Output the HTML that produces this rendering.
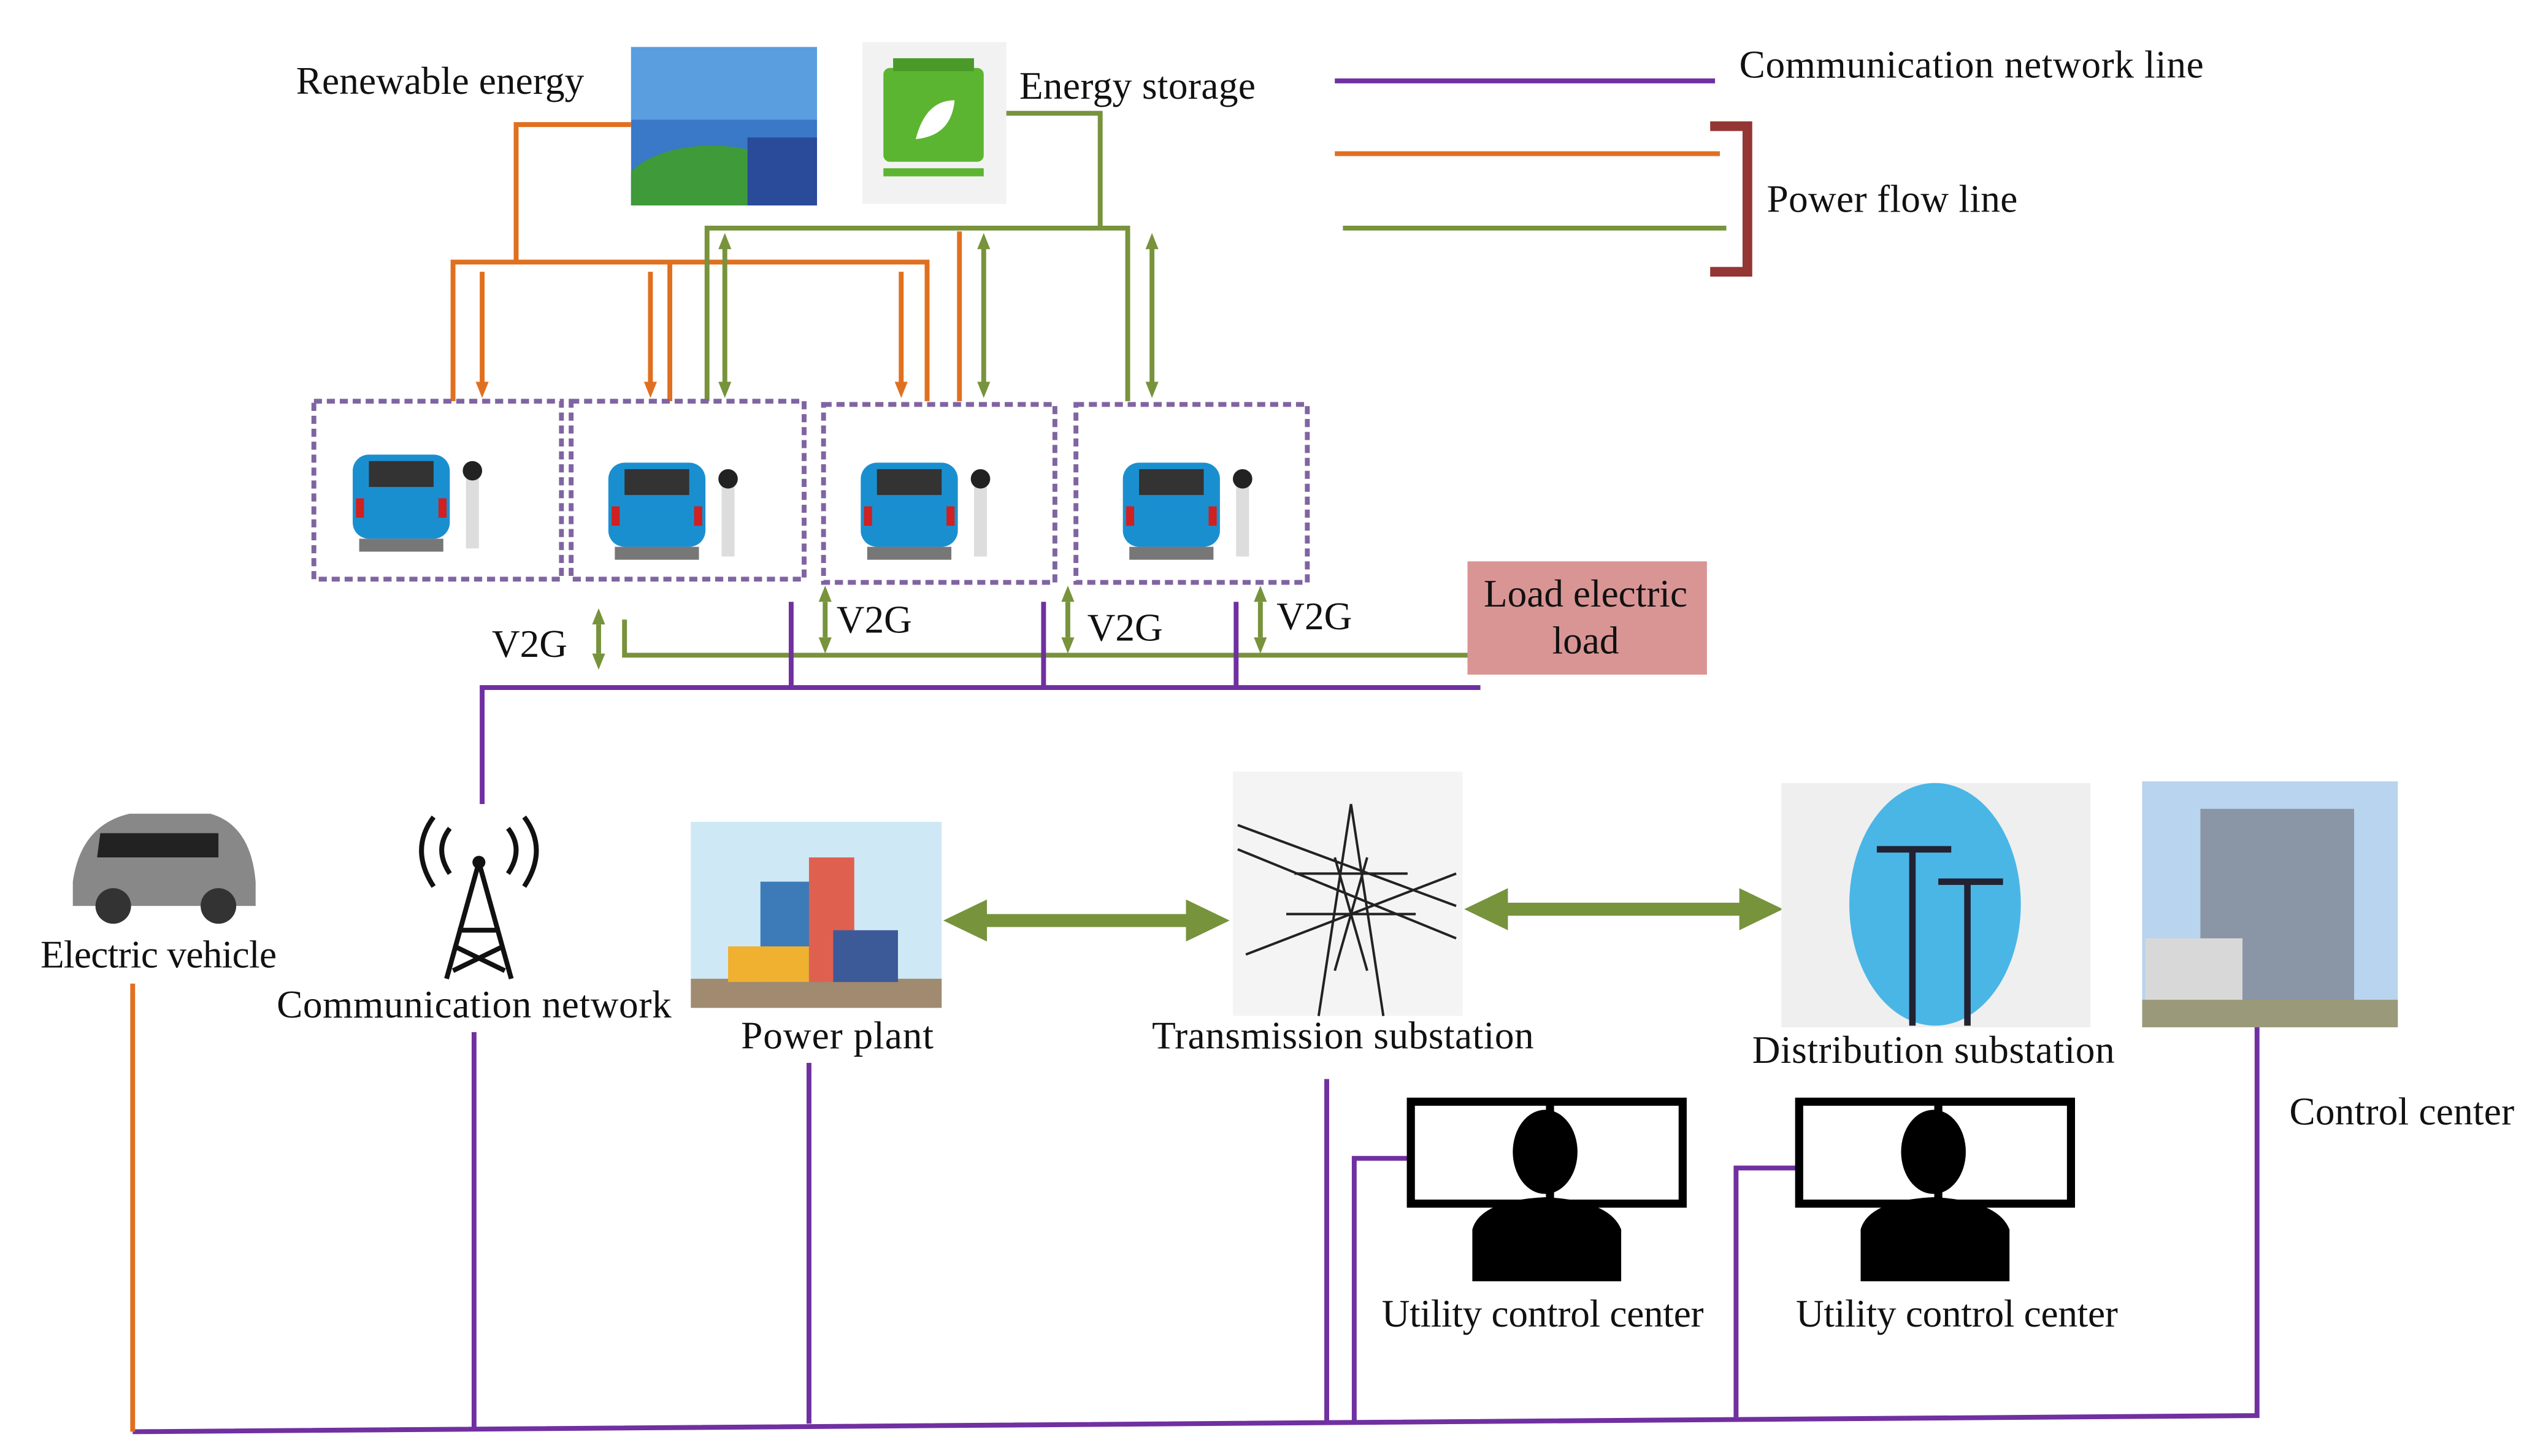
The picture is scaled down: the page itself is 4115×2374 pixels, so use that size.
<!DOCTYPE html>
<html><head><meta charset="utf-8"><style>html,body{margin:0;padding:0;background:#fff}svg{display:block}text{font-family:"Liberation Serif",serif;font-size:24px;fill:#111}</style></head><body>
<svg width="4115" height="2374" viewBox="0 0 1560 900" preserveAspectRatio="none" xmlns="http://www.w3.org/2000/svg">
<defs>
<g id="car">
<rect x="-30" y="-22" width="60" height="52" rx="10" fill="#1a8fd0"/>
<rect x="-20" y="-18" width="40" height="16" fill="#333"/>
<rect x="-26" y="30" width="52" height="8" fill="#777"/>
<rect x="-28" y="5" width="5" height="12" fill="#d02020"/><rect x="23" y="5" width="5" height="12" fill="#d02020"/>
<rect x="40" y="-12" width="8" height="48" fill="#ddd"/><circle cx="44" cy="-12" r="6" fill="#222"/>
</g>
<clipPath id="rc"><rect x="390" y="29" width="115" height="98"/></clipPath>
</defs>
<!-- legend -->
<line x1="825" y1="50" x2="1060" y2="50" stroke="#7030a0" stroke-width="3"/>
<line x1="825" y1="95" x2="1063" y2="95" stroke="#e07020" stroke-width="3"/>
<line x1="830" y1="141" x2="1067" y2="141" stroke="#77933c" stroke-width="3"/>
<path d="M1057,78 H1080 V168 H1057" fill="none" stroke="#943634" stroke-width="6"/>
<text x="1075" y="48" textLength="287">Communication network line</text>
<text x="1092" y="131" textLength="155">Power flow line</text>
<text x="183" y="58" textLength="178">Renewable energy</text>
<text x="630" y="61" textLength="146">Energy storage</text>
<!-- renewable image -->
<g clip-path="url(#rc)">
<rect x="390" y="29" width="115" height="98" fill="#3a78c8"/>
<rect x="390" y="29" width="115" height="45" fill="#5a9ee0"/>
<ellipse cx="440" cy="118" rx="55" ry="28" fill="#3f9a3a"/>
<rect x="462" y="85" width="43" height="42" fill="#2a4a9a"/>
</g>
<!-- storage image -->
<rect x="533" y="26" width="89" height="100" fill="#f2f2f2"/>
<rect x="546" y="42" width="62" height="58" rx="4" fill="#5cb531"/>
<rect x="552" y="36" width="50" height="8" fill="#4a9a2a"/>
<rect x="546" y="104" width="62" height="5" fill="#5cb531"/>
<path d="M566,86 Q572,62 590,62 Q588,84 566,86Z" fill="#fff"/>
<!-- orange lines -->
<g stroke="#e07020" stroke-width="3" fill="none">
<path d="M390,77 H319 V162"/><path d="M280,248 V162 H573 V248"/><path d="M414,162 V248"/><path d="M593,143 V248"/>
<path d="M298,168 V238 M402,168 V238 M557,168 V238"/>
</g>
<g fill="#e07020"><path d="M294,236 L298,246 L302,236Z"/><path d="M398,236 L402,246 L406,236Z"/><path d="M553,236 L557,246 L561,236Z"/></g>
<!-- green lines -->
<g stroke="#77933c" stroke-width="3" fill="none">
<path d="M622,70 H680 V141"/><path d="M437,248 V141 H697 V248"/>
<path d="M448,152 V238 M608,152 V238 M712,152 V238"/>
<path d="M386,383 V405 H907"/>
<path d="M370,386 V404 M510,372 V394 M660,372 V394 M779,372 V394"/>
</g>
<g fill="#77933c">
<path d="M444,154 L448,144 L452,154Z M444,236 L448,246 L452,236Z"/>
<path d="M604,154 L608,144 L612,154Z M604,236 L608,246 L612,236Z"/>
<path d="M708,154 L712,144 L716,154Z M708,236 L712,246 L716,236Z"/>
<path d="M366,386 L370,376 L374,386Z M366,404 L370,414 L374,404Z"/>
<path d="M506,372 L510,362 L514,372Z M506,394 L510,404 L514,394Z"/>
<path d="M656,372 L660,362 L664,372Z M656,394 L660,404 L664,394Z"/>
<path d="M775,372 L779,362 L783,372Z M775,394 L779,404 L783,394Z"/>
</g>
<!-- EV boxes -->
<g fill="none" stroke="#8064a2" stroke-width="3" stroke-dasharray="5,3">
<rect x="194" y="248" width="153" height="110"/><rect x="353" y="248" width="144" height="110"/>
<rect x="509" y="250" width="143" height="110"/><rect x="665" y="250" width="143" height="110"/>
</g>
<use href="#car" x="248" y="303"/><use href="#car" x="406" y="308"/><use href="#car" x="562" y="308"/><use href="#car" x="724" y="308"/>
<!-- load box -->
<rect x="907" y="347" width="148" height="70" fill="#d99594"/>
<text x="980" y="375" text-anchor="middle">Load electric</text>
<text x="980" y="404" text-anchor="middle">load</text>
<text x="304" y="406">V2G</text><text x="517" y="391">V2G</text><text x="672" y="396">V2G</text><text x="789" y="389">V2G</text>
<!-- purple -->
<g stroke="#7030a0" stroke-width="3" fill="none">
<path d="M298,497 V425 H915"/><path d="M489,372 V425"/><path d="M645,372 V425"/><path d="M764,372 V425"/>
<path d="M82,885 L1395,875 V633"/><path d="M293,638 V882"/><path d="M500,657 V880"/><path d="M820,667 V878"/>
<path d="M837,878 V716 H870"/><path d="M1073,876 V722 H1110"/>
</g>
<path d="M82,608 V885" stroke="#e07020" stroke-width="3"/>
<!-- big arrows -->
<g stroke="#77933c" stroke-width="8">
<line x1="605" y1="569" x2="738" y2="569"/><line x1="927" y1="562" x2="1080" y2="562"/>
</g>
<g fill="#77933c"><path d="M583,569 L610,556 V582Z"/><path d="M760,569 L733,556 V582Z"/><path d="M905,562 L932,549 V575Z"/><path d="M1102,562 L1075,549 V575Z"/></g>
<!-- EV -->
<path d="M45,545 Q50,510 80,503 H130 Q155,510 158,545 V560 H45Z" fill="#888"/>
<path d="M62,515 H135 V530 H60Z" fill="#222"/>
<circle cx="70" cy="560" r="11" fill="#333"/><circle cx="135" cy="560" r="11" fill="#333"/>
<text x="25" y="598" textLength="146">Electric vehicle</text>
<!-- tower -->
<g stroke="#111" stroke-width="3" fill="none">
<path d="M296,533 L276,605 M296,533 L316,605 M283,575 H309 M281,585 L312,600 M311,585 L280,600"/>
<path d="M278,512 Q268,525 278,540 M314,512 Q324,525 314,540 M268,505 Q253,525 268,548 M324,505 Q339,525 324,548"/>
</g>
<circle cx="296" cy="533" r="4" fill="#111"/>
<text x="171" y="629" textLength="244">Communication network</text>
<!-- power plant -->
<rect x="427" y="508" width="155" height="115" fill="#cfe8f5"/>
<rect x="427" y="605" width="155" height="18" fill="#a08a70"/>
<rect x="470" y="545" width="40" height="62" fill="#3c7ab8"/><rect x="500" y="530" width="28" height="77" fill="#e06050"/>
<rect x="450" y="585" width="50" height="22" fill="#f0b030"/><rect x="515" y="575" width="40" height="32" fill="#3c5a98"/>
<text x="458" y="648" textLength="119">Power plant</text>
<!-- transmission -->
<rect x="762" y="477" width="142" height="151" fill="#f4f4f4"/>
<g stroke="#222" stroke-width="1.5" fill="none">
<path d="M835,497 L815,628 M835,497 L855,628 M800,540 H870 M795,565 H875 M765,510 L900,560 M765,525 L900,580 M770,590 L900,540 M825,530 L845,600 M845,530 L825,600"/>
</g>
<text x="712" y="648" textLength="236">Transmission substation</text>
<!-- distribution -->
<rect x="1101" y="484" width="191" height="151" fill="#efefef"/>
<ellipse cx="1196" cy="559" rx="53" ry="75" fill="#4ab6e6"/>
<g stroke="#223" stroke-width="4"><path d="M1182,525 V634 M1216,545 V634 M1160,525 H1206 M1198,545 H1238"/></g>
<text x="1083" y="657" textLength="224">Distribution substation</text>
<!-- control center -->
<rect x="1324" y="483" width="158" height="152" fill="#b8d4ee"/>
<rect x="1360" y="500" width="95" height="120" fill="#8a95a5"/>
<rect x="1326" y="580" width="60" height="40" fill="#d8d8d8"/>
<rect x="1324" y="618" width="158" height="17" fill="#9a9a7a"/>
<text x="1415" y="695" textLength="139">Control center</text>
<!-- utility centers -->
<g id="uc">
<rect x="872" y="681" width="168" height="63" fill="#fff" stroke="#000" stroke-width="5"/>
<line x1="958" y1="681" x2="958" y2="744" stroke="#000" stroke-width="5"/>
<ellipse cx="955" cy="712" rx="20" ry="26" fill="#000"/>
<path d="M910,792 V760 Q915,742 955,740 Q995,742 1002,760 V792Z" fill="#000"/>
</g>
<use href="#uc" x="240" y="0"/>
<text x="854" y="820" textLength="199">Utility control center</text>
<text x="1110" y="820" textLength="199">Utility control center</text>
</svg>
</body></html>
